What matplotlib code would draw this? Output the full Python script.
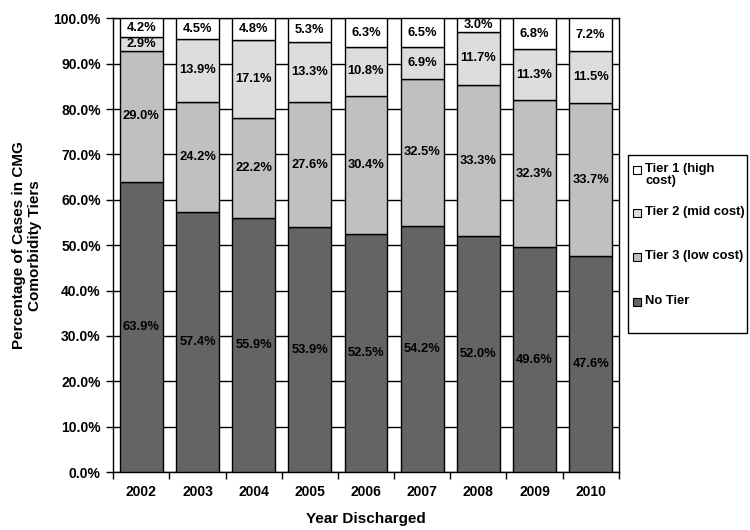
import numpy as np
import matplotlib
matplotlib.use("Agg")
import matplotlib.pyplot as plt
from matplotlib.patches import Rectangle
from matplotlib.ticker import FuncFormatter

plt.rcParams['font.family'] = ['Liberation Sans', 'DejaVu Sans']
plt.rcParams['font.weight'] = 'bold'

years = ['2002', '2003', '2004', '2005', '2006', '2007', '2008', '2009', '2010']
no_tier = [63.9, 57.4, 55.9, 53.9, 52.5, 54.2, 52.0, 49.6, 47.6]
tier3 = [29.0, 24.2, 22.2, 27.6, 30.4, 32.5, 33.3, 32.3, 33.7]
tier2 = [2.9, 13.9, 17.1, 13.3, 10.8, 6.9, 11.7, 11.3, 11.5]
tier1 = [4.2, 4.5, 4.8, 5.3, 6.3, 6.5, 3.0, 6.8, 7.2]

series = [
    ('No Tier', no_tier, '#646464'),
    ('Tier 3 (low cost)', tier3, '#c0c0c0'),
    ('Tier 2 (mid cost)', tier2, '#dddddd'),
    ('Tier 1 (high\ncost)', tier1, '#ffffff'),
]

W, H = 750, 530
fig = plt.figure(figsize=(W / 100, H / 100), dpi=100)
ax = fig.add_axes([0.151, 0.1094, 0.674, 0.856])

x = np.arange(len(years))
bottom = np.zeros(len(years))
for name, vals, col in series:
    vals = np.array(vals)
    ax.bar(x, vals, 0.765, bottom=bottom, color=col, edgecolor='black',
           linewidth=1.0, zorder=3, label=name)
    for xi, v, b0 in zip(x, vals, bottom):
        ax.text(xi, b0 + v / 2, f'{v:.1f}%', ha='center', va='center',
                fontsize=9.3, fontweight='bold', zorder=4)
    bottom += vals

ax.set_xlim(-0.5, len(years) - 0.5)
ax.set_ylim(0, 100)
ax.set_yticks(np.arange(0, 101, 10))
ax.yaxis.set_major_formatter(FuncFormatter(lambda v, p: f'{v:.1f}%'))
ax.yaxis.grid(True, color='black', linewidth=1.0, zorder=0)

# ticks between the bars, labels under the bars
ax.set_xticks(np.arange(-0.5, len(years), 1.0))
ax.set_xticklabels([])
ax.set_xticks(x, minor=True)
ax.set_xticklabels(years, minor=True)
ax.tick_params(axis='x', which='minor', length=0, pad=9, labelsize=10)
ax.tick_params(axis='x', which='major', length=5, width=1, direction='out')
ax.tick_params(axis='y', length=5, width=1, direction='out', labelsize=10, pad=4)
for lab in ax.get_xticklabels(minor=True) + ax.get_yticklabels():
    lab.set_fontweight('bold')

for s in ax.spines.values():
    s.set_color('black')
    s.set_linewidth(1.0)

ax.set_xlabel('Year Discharged', fontsize=11, fontweight='bold', labelpad=10)
ax.set_ylabel('Percentage of Cases in CMG\nComorbidity Tiers', fontsize=11,
              fontweight='bold', labelpad=8)

# legend drawn by hand, Excel style (marker aligned with the first text line)
fig.patches.append(Rectangle((628 / W, 1 - 333 / H), 119 / W, 178 / H,
                             transform=fig.transFigure, facecolor='white',
                             edgecolor='black', linewidth=1.0))
entry_y = [170, 213, 257, 302]
for (name, vals, col), ey in zip(series[::-1], entry_y):
    fig.patches.append(Rectangle((633 / W, 1 - (ey + 4) / H), 8 / W, 8 / H,
                                 transform=fig.transFigure, facecolor=col,
                                 edgecolor='black', linewidth=0.8))
    fig.text(645 / W, 1 - (ey - 7) / H, name, ha='left', va='top',
             fontsize=9.4, fontweight='bold', linespacing=1.05)

fig.savefig('out.png', dpi=100)
